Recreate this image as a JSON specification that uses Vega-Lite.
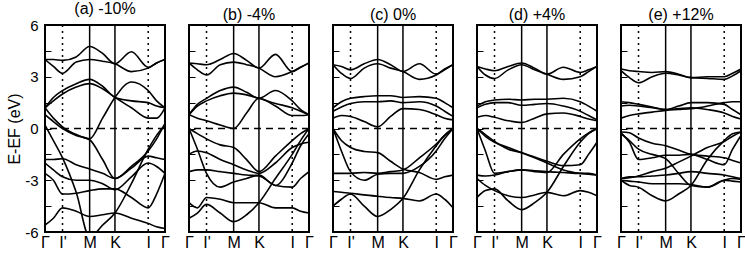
{
"$schema":"https://vega.github.io/schema/vega-lite/v6.json",
"padding":{"left":5,"top":0,"right":0,"bottom":0},
"spacing":12,
"config":{"view":{"stroke":"black","strokeWidth":2},"font":"Liberation Sans",
"axis":{"labelFont":"Liberation Sans","labelColor":"black","labelFontSize":15,"titleFont":"Liberation Sans","titleFontSize":16,"titleFontWeight":"normal","titleColor":"black","grid":false,"domain":false,"tickColor":"black"},
"axisX":{"labelOverlap":false,"labelFlush":false,"ticks":false,"labelPadding":2,"title":null,"labelFontSize":16},
"title":{"font":"Liberation Sans","fontSize":16,"fontWeight":"normal","color":"black","offset":1}},
"datasets":{
"vlines":[{"k":0.146,"s":"dot"},{"k":0.86,"s":"dot"},{"k":0.372,"s":"solid"},{"k":0.583,"s":"solid"}],
"bands":[
{"p":"a","b":1,"k":0,"e":4.0},{"p":"a","b":1,"k":0.07,"e":4.0},{"p":"a","b":1,"k":0.146,"e":3.95},{"p":"a","b":1,"k":0.26,"e":4.15},{"p":"a","b":1,"k":0.372,"e":4.75},{"p":"a","b":1,"k":0.48,"e":4.35},{"p":"a","b":1,"k":0.583,"e":3.75},{"p":"a","b":1,"k":0.72,"e":4.45},{"p":"a","b":1,"k":0.86,"e":3.55},{"p":"a","b":1,"k":0.93,"e":3.8},{"p":"a","b":1,"k":1,"e":4.0},
{"p":"a","b":2,"k":0,"e":4.0},{"p":"a","b":2,"k":0.07,"e":3.6},{"p":"a","b":2,"k":0.146,"e":3.2},{"p":"a","b":2,"k":0.26,"e":3.85},{"p":"a","b":2,"k":0.372,"e":4.0},{"p":"a","b":2,"k":0.48,"e":3.9},{"p":"a","b":2,"k":0.583,"e":3.75},{"p":"a","b":2,"k":0.72,"e":3.3},{"p":"a","b":2,"k":0.86,"e":3.5},{"p":"a","b":2,"k":0.93,"e":3.8},{"p":"a","b":2,"k":1,"e":4.0},
{"p":"a","b":3,"k":0,"e":1.2},{"p":"a","b":3,"k":0.07,"e":1.8},{"p":"a","b":3,"k":0.146,"e":2.2},{"p":"a","b":3,"k":0.26,"e":2.6},{"p":"a","b":3,"k":0.372,"e":2.85},{"p":"a","b":3,"k":0.48,"e":2.45},{"p":"a","b":3,"k":0.583,"e":1.8},{"p":"a","b":3,"k":0.72,"e":1.6},{"p":"a","b":3,"k":0.86,"e":1.5},{"p":"a","b":3,"k":0.93,"e":1.3},{"p":"a","b":3,"k":1,"e":1.2},
{"p":"a","b":4,"k":0,"e":1.2},{"p":"a","b":4,"k":0.07,"e":1.6},{"p":"a","b":4,"k":0.146,"e":2.0},{"p":"a","b":4,"k":0.26,"e":2.4},{"p":"a","b":4,"k":0.372,"e":2.6},{"p":"a","b":4,"k":0.48,"e":2.3},{"p":"a","b":4,"k":0.583,"e":1.8},{"p":"a","b":4,"k":0.72,"e":1.2},{"p":"a","b":4,"k":0.86,"e":0.6},{"p":"a","b":4,"k":0.93,"e":0.6},{"p":"a","b":4,"k":1,"e":1.2},
{"p":"a","b":5,"k":0,"e":1.2},{"p":"a","b":5,"k":0.07,"e":0.6},{"p":"a","b":5,"k":0.146,"e":0.1},{"p":"a","b":5,"k":0.26,"e":-0.35},{"p":"a","b":5,"k":0.372,"e":-0.6},{"p":"a","b":5,"k":0.48,"e":0.6},{"p":"a","b":5,"k":0.583,"e":1.8},{"p":"a","b":5,"k":0.72,"e":2.7},{"p":"a","b":5,"k":0.86,"e":2.2},{"p":"a","b":5,"k":0.93,"e":1.6},{"p":"a","b":5,"k":1,"e":1.2},
{"p":"a","b":6,"k":0,"e":0.8},{"p":"a","b":6,"k":0.07,"e":0.4},{"p":"a","b":6,"k":0.146,"e":0.0},{"p":"a","b":6,"k":0.26,"e":-0.4},{"p":"a","b":6,"k":0.372,"e":-0.65},{"p":"a","b":6,"k":0.48,"e":-1.8},{"p":"a","b":6,"k":0.583,"e":-2.9},{"p":"a","b":6,"k":0.72,"e":-2.2},{"p":"a","b":6,"k":0.86,"e":-1.3},{"p":"a","b":6,"k":0.93,"e":-0.6},{"p":"a","b":6,"k":1,"e":0.3},
{"p":"a","b":7,"k":0,"e":0.2},{"p":"a","b":7,"k":0.07,"e":-0.7},{"p":"a","b":7,"k":0.146,"e":-1.7},{"p":"a","b":7,"k":0.26,"e":-3.7},{"p":"a","b":7,"k":0.372,"e":-6.3},{"p":"a","b":7,"k":0.48,"e":-5.6},{"p":"a","b":7,"k":0.583,"e":-4.9},{"p":"a","b":7,"k":0.72,"e":-3.2},{"p":"a","b":7,"k":0.86,"e":-1.2},{"p":"a","b":7,"k":0.93,"e":-0.4},{"p":"a","b":7,"k":1,"e":0.2},
{"p":"a","b":8,"k":0,"e":-1.8},{"p":"a","b":8,"k":0.07,"e":-1.8},{"p":"a","b":8,"k":0.146,"e":-1.75},{"p":"a","b":8,"k":0.26,"e":-2.1},{"p":"a","b":8,"k":0.372,"e":-2.35},{"p":"a","b":8,"k":0.48,"e":-2.6},{"p":"a","b":8,"k":0.583,"e":-2.9},{"p":"a","b":8,"k":0.72,"e":-2.3},{"p":"a","b":8,"k":0.86,"e":-1.6},{"p":"a","b":8,"k":0.93,"e":-1.7},{"p":"a","b":8,"k":1,"e":-1.8},
{"p":"a","b":9,"k":0,"e":-2.0},{"p":"a","b":9,"k":0.07,"e":-2.4},{"p":"a","b":9,"k":0.146,"e":-2.8},{"p":"a","b":9,"k":0.26,"e":-3.0},{"p":"a","b":9,"k":0.372,"e":-3.0},{"p":"a","b":9,"k":0.48,"e":-3.2},{"p":"a","b":9,"k":0.583,"e":-3.55},{"p":"a","b":9,"k":0.72,"e":-2.8},{"p":"a","b":9,"k":0.86,"e":-2.0},{"p":"a","b":9,"k":0.93,"e":-2.2},{"p":"a","b":9,"k":1,"e":-2.6},
{"p":"a","b":10,"k":0,"e":-2.6},{"p":"a","b":10,"k":0.07,"e":-3.0},{"p":"a","b":10,"k":0.146,"e":-3.8},{"p":"a","b":10,"k":0.26,"e":-3.75},{"p":"a","b":10,"k":0.372,"e":-3.6},{"p":"a","b":10,"k":0.48,"e":-3.5},{"p":"a","b":10,"k":0.583,"e":-3.5},{"p":"a","b":10,"k":0.72,"e":-4.0},{"p":"a","b":10,"k":0.86,"e":-4.6},{"p":"a","b":10,"k":0.93,"e":-3.8},{"p":"a","b":10,"k":1,"e":-2.6},
{"p":"a","b":11,"k":0,"e":-5.6},{"p":"a","b":11,"k":0.07,"e":-5.2},{"p":"a","b":11,"k":0.146,"e":-4.6},{"p":"a","b":11,"k":0.26,"e":-4.8},{"p":"a","b":11,"k":0.372,"e":-5.1},{"p":"a","b":11,"k":0.48,"e":-5.0},{"p":"a","b":11,"k":0.583,"e":-4.9},{"p":"a","b":11,"k":0.72,"e":-5.2},{"p":"a","b":11,"k":0.86,"e":-5.5},{"p":"a","b":11,"k":0.93,"e":-5.7},{"p":"a","b":11,"k":1,"e":-5.8},

{"p":"b","b":1,"k":0,"e":3.8},{"p":"b","b":1,"k":0.07,"e":3.75},{"p":"b","b":1,"k":0.146,"e":3.7},{"p":"b","b":1,"k":0.26,"e":4.0},{"p":"b","b":1,"k":0.372,"e":4.35},{"p":"b","b":1,"k":0.48,"e":3.95},{"p":"b","b":1,"k":0.583,"e":3.5},{"p":"b","b":1,"k":0.72,"e":4.3},{"p":"b","b":1,"k":0.86,"e":3.3},{"p":"b","b":1,"k":0.93,"e":3.55},{"p":"b","b":1,"k":1,"e":3.8},
{"p":"b","b":2,"k":0,"e":3.8},{"p":"b","b":2,"k":0.07,"e":3.4},{"p":"b","b":2,"k":0.146,"e":3.1},{"p":"b","b":2,"k":0.26,"e":3.7},{"p":"b","b":2,"k":0.372,"e":3.85},{"p":"b","b":2,"k":0.48,"e":3.7},{"p":"b","b":2,"k":0.583,"e":3.5},{"p":"b","b":2,"k":0.72,"e":3.0},{"p":"b","b":2,"k":0.86,"e":3.3},{"p":"b","b":2,"k":0.93,"e":3.55},{"p":"b","b":2,"k":1,"e":3.8},
{"p":"b","b":3,"k":0,"e":0.8},{"p":"b","b":3,"k":0.07,"e":1.4},{"p":"b","b":3,"k":0.146,"e":1.75},{"p":"b","b":3,"k":0.26,"e":2.2},{"p":"b","b":3,"k":0.372,"e":2.4},{"p":"b","b":3,"k":0.48,"e":2.1},{"p":"b","b":3,"k":0.583,"e":1.75},{"p":"b","b":3,"k":0.72,"e":2.2},{"p":"b","b":3,"k":0.86,"e":1.6},{"p":"b","b":3,"k":0.93,"e":1.1},{"p":"b","b":3,"k":1,"e":0.8},
{"p":"b","b":4,"k":0,"e":0.8},{"p":"b","b":4,"k":0.07,"e":1.3},{"p":"b","b":4,"k":0.146,"e":1.6},{"p":"b","b":4,"k":0.26,"e":1.9},{"p":"b","b":4,"k":0.372,"e":2.05},{"p":"b","b":4,"k":0.48,"e":1.95},{"p":"b","b":4,"k":0.583,"e":1.75},{"p":"b","b":4,"k":0.72,"e":1.45},{"p":"b","b":4,"k":0.86,"e":1.2},{"p":"b","b":4,"k":0.93,"e":1.0},{"p":"b","b":4,"k":1,"e":0.8},
{"p":"b","b":5,"k":0,"e":0.8},{"p":"b","b":5,"k":0.07,"e":0.6},{"p":"b","b":5,"k":0.146,"e":0.45},{"p":"b","b":5,"k":0.26,"e":0.2},{"p":"b","b":5,"k":0.372,"e":0.0},{"p":"b","b":5,"k":0.48,"e":0.9},{"p":"b","b":5,"k":0.583,"e":1.75},{"p":"b","b":5,"k":0.72,"e":1.3},{"p":"b","b":5,"k":0.86,"e":0.75},{"p":"b","b":5,"k":0.93,"e":0.75},{"p":"b","b":5,"k":1,"e":0.8},
{"p":"b","b":6,"k":0,"e":0.0},{"p":"b","b":6,"k":0.07,"e":-0.3},{"p":"b","b":6,"k":0.146,"e":-0.6},{"p":"b","b":6,"k":0.26,"e":-0.95},{"p":"b","b":6,"k":0.372,"e":-1.1},{"p":"b","b":6,"k":0.48,"e":-1.8},{"p":"b","b":6,"k":0.583,"e":-2.5},{"p":"b","b":6,"k":0.72,"e":-1.6},{"p":"b","b":6,"k":0.86,"e":-0.7},{"p":"b","b":6,"k":0.93,"e":-0.3},{"p":"b","b":6,"k":1,"e":0.0},
{"p":"b","b":7,"k":0,"e":0.0},{"p":"b","b":7,"k":0.07,"e":-1.2},{"p":"b","b":7,"k":0.146,"e":-2.6},{"p":"b","b":7,"k":0.26,"e":-3.4},{"p":"b","b":7,"k":0.372,"e":-3.1},{"p":"b","b":7,"k":0.48,"e":-2.9},{"p":"b","b":7,"k":0.583,"e":-2.7},{"p":"b","b":7,"k":0.72,"e":-3.3},{"p":"b","b":7,"k":0.86,"e":-2.0},{"p":"b","b":7,"k":0.93,"e":-1.0},{"p":"b","b":7,"k":1,"e":-0.3},
{"p":"b","b":8,"k":0,"e":-1.5},{"p":"b","b":8,"k":0.07,"e":-1.3},{"p":"b","b":8,"k":0.146,"e":-1.4},{"p":"b","b":8,"k":0.26,"e":-1.8},{"p":"b","b":8,"k":0.372,"e":-2.1},{"p":"b","b":8,"k":0.48,"e":-2.4},{"p":"b","b":8,"k":0.583,"e":-2.6},{"p":"b","b":8,"k":0.72,"e":-2.0},{"p":"b","b":8,"k":0.86,"e":-1.1},{"p":"b","b":8,"k":0.93,"e":-0.9},{"p":"b","b":8,"k":1,"e":-0.8},
{"p":"b","b":9,"k":0,"e":-2.5},{"p":"b","b":9,"k":0.07,"e":-2.4},{"p":"b","b":9,"k":0.146,"e":-2.4},{"p":"b","b":9,"k":0.26,"e":-2.5},{"p":"b","b":9,"k":0.372,"e":-2.6},{"p":"b","b":9,"k":0.48,"e":-2.7},{"p":"b","b":9,"k":0.583,"e":-2.75},{"p":"b","b":9,"k":0.72,"e":-3.3},{"p":"b","b":9,"k":0.86,"e":-3.4},{"p":"b","b":9,"k":0.93,"e":-2.9},{"p":"b","b":9,"k":1,"e":-2.5},
{"p":"b","b":10,"k":0,"e":-4.3},{"p":"b","b":10,"k":0.07,"e":-4.6},{"p":"b","b":10,"k":0.146,"e":-4.0},{"p":"b","b":10,"k":0.26,"e":-4.1},{"p":"b","b":10,"k":0.372,"e":-4.3},{"p":"b","b":10,"k":0.48,"e":-4.3},{"p":"b","b":10,"k":0.583,"e":-4.3},{"p":"b","b":10,"k":0.72,"e":-4.6},{"p":"b","b":10,"k":0.86,"e":-4.6},{"p":"b","b":10,"k":0.93,"e":-4.8},{"p":"b","b":10,"k":1,"e":-4.9},
{"p":"b","b":11,"k":0,"e":-5.2},{"p":"b","b":11,"k":0.07,"e":-4.9},{"p":"b","b":11,"k":0.146,"e":-4.4},{"p":"b","b":11,"k":0.26,"e":-4.9},{"p":"b","b":11,"k":0.372,"e":-5.4},{"p":"b","b":11,"k":0.48,"e":-5.0},{"p":"b","b":11,"k":0.583,"e":-4.3},{"p":"b","b":11,"k":0.72,"e":-2.9},{"p":"b","b":11,"k":0.86,"e":-1.5},{"p":"b","b":11,"k":0.93,"e":-0.7},{"p":"b","b":11,"k":1,"e":0.0},

{"p":"c","b":1,"k":0,"e":3.7},{"p":"c","b":1,"k":0.07,"e":3.6},{"p":"c","b":1,"k":0.146,"e":3.4},{"p":"c","b":1,"k":0.26,"e":3.75},{"p":"c","b":1,"k":0.372,"e":4.0},{"p":"c","b":1,"k":0.48,"e":3.7},{"p":"c","b":1,"k":0.583,"e":3.3},{"p":"c","b":1,"k":0.72,"e":3.75},{"p":"c","b":1,"k":0.86,"e":3.15},{"p":"c","b":1,"k":0.93,"e":3.45},{"p":"c","b":1,"k":1,"e":3.7},
{"p":"c","b":2,"k":0,"e":3.7},{"p":"c","b":2,"k":0.07,"e":3.2},{"p":"c","b":2,"k":0.146,"e":2.9},{"p":"c","b":2,"k":0.26,"e":3.5},{"p":"c","b":2,"k":0.372,"e":3.75},{"p":"c","b":2,"k":0.48,"e":3.5},{"p":"c","b":2,"k":0.583,"e":3.3},{"p":"c","b":2,"k":0.72,"e":2.85},{"p":"c","b":2,"k":0.86,"e":3.1},{"p":"c","b":2,"k":0.93,"e":3.4},{"p":"c","b":2,"k":1,"e":3.7},
{"p":"c","b":3,"k":0,"e":1.2},{"p":"c","b":3,"k":0.07,"e":1.55},{"p":"c","b":3,"k":0.146,"e":1.75},{"p":"c","b":3,"k":0.26,"e":1.85},{"p":"c","b":3,"k":0.372,"e":1.9},{"p":"c","b":3,"k":0.48,"e":1.9},{"p":"c","b":3,"k":0.583,"e":1.8},{"p":"c","b":3,"k":0.72,"e":1.85},{"p":"c","b":3,"k":0.86,"e":1.75},{"p":"c","b":3,"k":0.93,"e":1.5},{"p":"c","b":3,"k":1,"e":1.2},
{"p":"c","b":4,"k":0,"e":1.0},{"p":"c","b":4,"k":0.07,"e":1.25},{"p":"c","b":4,"k":0.146,"e":1.45},{"p":"c","b":4,"k":0.26,"e":1.55},{"p":"c","b":4,"k":0.372,"e":1.55},{"p":"c","b":4,"k":0.48,"e":1.6},{"p":"c","b":4,"k":0.583,"e":1.5},{"p":"c","b":4,"k":0.72,"e":1.55},{"p":"c","b":4,"k":0.86,"e":1.3},{"p":"c","b":4,"k":0.93,"e":1.0},{"p":"c","b":4,"k":1,"e":0.7},
{"p":"c","b":5,"k":0,"e":0.6},{"p":"c","b":5,"k":0.07,"e":0.75},{"p":"c","b":5,"k":0.146,"e":0.7},{"p":"c","b":5,"k":0.26,"e":0.4},{"p":"c","b":5,"k":0.372,"e":0.1},{"p":"c","b":5,"k":0.48,"e":0.7},{"p":"c","b":5,"k":0.583,"e":1.15},{"p":"c","b":5,"k":0.72,"e":1.1},{"p":"c","b":5,"k":0.86,"e":0.8},{"p":"c","b":5,"k":0.93,"e":0.6},{"p":"c","b":5,"k":1,"e":0.5},
{"p":"c","b":6,"k":0,"e":0.0},{"p":"c","b":6,"k":0.07,"e":-0.7},{"p":"c","b":6,"k":0.146,"e":-1.1},{"p":"c","b":6,"k":0.26,"e":-1.33},{"p":"c","b":6,"k":0.372,"e":-1.4},{"p":"c","b":6,"k":0.48,"e":-1.9},{"p":"c","b":6,"k":0.583,"e":-2.35},{"p":"c","b":6,"k":0.72,"e":-2.55},{"p":"c","b":6,"k":0.86,"e":-2.95},{"p":"c","b":6,"k":0.93,"e":-2.8},{"p":"c","b":6,"k":1,"e":-2.7},
{"p":"c","b":7,"k":0,"e":0.0},{"p":"c","b":7,"k":0.07,"e":-1.3},{"p":"c","b":7,"k":0.146,"e":-2.5},{"p":"c","b":7,"k":0.26,"e":-3.0},{"p":"c","b":7,"k":0.372,"e":-2.65},{"p":"c","b":7,"k":0.48,"e":-2.6},{"p":"c","b":7,"k":0.583,"e":-2.6},{"p":"c","b":7,"k":0.72,"e":-2.2},{"p":"c","b":7,"k":0.86,"e":-1.3},{"p":"c","b":7,"k":0.93,"e":-0.6},{"p":"c","b":7,"k":1,"e":0.0},
{"p":"c","b":8,"k":0,"e":-2.6},{"p":"c","b":8,"k":0.07,"e":-2.6},{"p":"c","b":8,"k":0.146,"e":-2.6},{"p":"c","b":8,"k":0.26,"e":-2.55},{"p":"c","b":8,"k":0.372,"e":-2.6},{"p":"c","b":8,"k":0.48,"e":-2.5},{"p":"c","b":8,"k":0.583,"e":-2.4},{"p":"c","b":8,"k":0.72,"e":-1.7},{"p":"c","b":8,"k":0.86,"e":-0.9},{"p":"c","b":8,"k":0.93,"e":-0.4},{"p":"c","b":8,"k":1,"e":0.0},
{"p":"c","b":9,"k":0,"e":-3.65},{"p":"c","b":9,"k":0.07,"e":-3.7},{"p":"c","b":9,"k":0.146,"e":-3.75},{"p":"c","b":9,"k":0.26,"e":-3.85},{"p":"c","b":9,"k":0.372,"e":-3.93},{"p":"c","b":9,"k":0.48,"e":-4.0},{"p":"c","b":9,"k":0.583,"e":-4.05},{"p":"c","b":9,"k":0.72,"e":-4.2},{"p":"c","b":9,"k":0.86,"e":-3.8},{"p":"c","b":9,"k":0.93,"e":-4.1},{"p":"c","b":9,"k":1,"e":-4.6},
{"p":"c","b":10,"k":0,"e":-4.5},{"p":"c","b":10,"k":0.07,"e":-4.1},{"p":"c","b":10,"k":0.146,"e":-3.8},{"p":"c","b":10,"k":0.26,"e":-4.5},{"p":"c","b":10,"k":0.372,"e":-5.1},{"p":"c","b":10,"k":0.48,"e":-4.7},{"p":"c","b":10,"k":0.583,"e":-4.05},{"p":"c","b":10,"k":0.72,"e":-2.4},{"p":"c","b":10,"k":0.86,"e":-1.0},{"p":"c","b":10,"k":0.93,"e":-0.4},{"p":"c","b":10,"k":1,"e":0.0},

{"p":"d","b":1,"k":0,"e":3.6},{"p":"d","b":1,"k":0.07,"e":3.45},{"p":"d","b":1,"k":0.146,"e":3.35},{"p":"d","b":1,"k":0.26,"e":3.6},{"p":"d","b":1,"k":0.372,"e":3.8},{"p":"d","b":1,"k":0.48,"e":3.5},{"p":"d","b":1,"k":0.583,"e":3.15},{"p":"d","b":1,"k":0.72,"e":3.55},{"p":"d","b":1,"k":0.86,"e":3.25},{"p":"d","b":1,"k":0.93,"e":3.4},{"p":"d","b":1,"k":1,"e":3.6},
{"p":"d","b":2,"k":0,"e":3.6},{"p":"d","b":2,"k":0.07,"e":3.1},{"p":"d","b":2,"k":0.146,"e":2.9},{"p":"d","b":2,"k":0.26,"e":3.4},{"p":"d","b":2,"k":0.372,"e":3.7},{"p":"d","b":2,"k":0.48,"e":3.4},{"p":"d","b":2,"k":0.583,"e":3.15},{"p":"d","b":2,"k":0.72,"e":2.85},{"p":"d","b":2,"k":0.86,"e":3.0},{"p":"d","b":2,"k":0.93,"e":3.3},{"p":"d","b":2,"k":1,"e":3.6},
{"p":"d","b":3,"k":0,"e":1.3},{"p":"d","b":3,"k":0.07,"e":1.55},{"p":"d","b":3,"k":0.146,"e":1.65},{"p":"d","b":3,"k":0.26,"e":1.7},{"p":"d","b":3,"k":0.372,"e":1.65},{"p":"d","b":3,"k":0.48,"e":1.7},{"p":"d","b":3,"k":0.583,"e":1.7},{"p":"d","b":3,"k":0.72,"e":1.75},{"p":"d","b":3,"k":0.86,"e":1.55},{"p":"d","b":3,"k":0.93,"e":1.3},{"p":"d","b":3,"k":1,"e":1.0},
{"p":"d","b":4,"k":0,"e":1.2},{"p":"d","b":4,"k":0.07,"e":1.4},{"p":"d","b":4,"k":0.146,"e":1.5},{"p":"d","b":4,"k":0.26,"e":1.5},{"p":"d","b":4,"k":0.372,"e":1.35},{"p":"d","b":4,"k":0.48,"e":1.4},{"p":"d","b":4,"k":0.583,"e":1.45},{"p":"d","b":4,"k":0.72,"e":1.3},{"p":"d","b":4,"k":0.86,"e":1.0},{"p":"d","b":4,"k":0.93,"e":0.75},{"p":"d","b":4,"k":1,"e":0.5},
{"p":"d","b":5,"k":0,"e":0.65},{"p":"d","b":5,"k":0.07,"e":0.75},{"p":"d","b":5,"k":0.146,"e":0.65},{"p":"d","b":5,"k":0.26,"e":0.45},{"p":"d","b":5,"k":0.372,"e":0.35},{"p":"d","b":5,"k":0.48,"e":0.6},{"p":"d","b":5,"k":0.583,"e":0.85},{"p":"d","b":5,"k":0.72,"e":0.9},{"p":"d","b":5,"k":0.86,"e":0.7},{"p":"d","b":5,"k":0.93,"e":0.55},{"p":"d","b":5,"k":1,"e":0.45},
{"p":"d","b":6,"k":0,"e":0.0},{"p":"d","b":6,"k":0.07,"e":-0.45},{"p":"d","b":6,"k":0.146,"e":-0.8},{"p":"d","b":6,"k":0.26,"e":-1.1},{"p":"d","b":6,"k":0.372,"e":-1.4},{"p":"d","b":6,"k":0.48,"e":-1.7},{"p":"d","b":6,"k":0.583,"e":-2.0},{"p":"d","b":6,"k":0.72,"e":-2.4},{"p":"d","b":6,"k":0.86,"e":-2.6},{"p":"d","b":6,"k":0.93,"e":-2.65},{"p":"d","b":6,"k":1,"e":-2.7},
{"p":"d","b":7,"k":0,"e":0.0},{"p":"d","b":7,"k":0.07,"e":-0.35},{"p":"d","b":7,"k":0.146,"e":-0.75},{"p":"d","b":7,"k":0.26,"e":-1.2},{"p":"d","b":7,"k":0.372,"e":-1.4},{"p":"d","b":7,"k":0.48,"e":-1.65},{"p":"d","b":7,"k":0.583,"e":-1.9},{"p":"d","b":7,"k":0.72,"e":-2.15},{"p":"d","b":7,"k":0.86,"e":-2.1},{"p":"d","b":7,"k":0.93,"e":-1.5},{"p":"d","b":7,"k":1,"e":-0.8},
{"p":"d","b":8,"k":0,"e":0.0},{"p":"d","b":8,"k":0.07,"e":-1.3},{"p":"d","b":8,"k":0.146,"e":-2.6},{"p":"d","b":8,"k":0.26,"e":-2.5},{"p":"d","b":8,"k":0.372,"e":-2.4},{"p":"d","b":8,"k":0.48,"e":-2.5},{"p":"d","b":8,"k":0.583,"e":-2.55},{"p":"d","b":8,"k":0.72,"e":-1.5},{"p":"d","b":8,"k":0.86,"e":-0.6},{"p":"d","b":8,"k":0.93,"e":-0.25},{"p":"d","b":8,"k":1,"e":0.0},
{"p":"d","b":9,"k":0,"e":-2.7},{"p":"d","b":9,"k":0.07,"e":-2.75},{"p":"d","b":9,"k":0.146,"e":-2.7},{"p":"d","b":9,"k":0.26,"e":-2.5},{"p":"d","b":9,"k":0.372,"e":-2.4},{"p":"d","b":9,"k":0.48,"e":-2.45},{"p":"d","b":9,"k":0.583,"e":-2.5},{"p":"d","b":9,"k":0.72,"e":-2.55},{"p":"d","b":9,"k":0.86,"e":-2.6},{"p":"d","b":9,"k":0.93,"e":-2.6},{"p":"d","b":9,"k":1,"e":-2.7},
{"p":"d","b":10,"k":0,"e":-2.9},{"p":"d","b":10,"k":0.07,"e":-3.3},{"p":"d","b":10,"k":0.146,"e":-3.6},{"p":"d","b":10,"k":0.26,"e":-3.9},{"p":"d","b":10,"k":0.372,"e":-4.0},{"p":"d","b":10,"k":0.48,"e":-3.85},{"p":"d","b":10,"k":0.583,"e":-3.7},{"p":"d","b":10,"k":0.72,"e":-3.9},{"p":"d","b":10,"k":0.86,"e":-3.6},{"p":"d","b":10,"k":0.93,"e":-3.7},{"p":"d","b":10,"k":1,"e":-3.9},
{"p":"d","b":11,"k":0,"e":-4.0},{"p":"d","b":11,"k":0.07,"e":-3.6},{"p":"d","b":11,"k":0.146,"e":-3.5},{"p":"d","b":11,"k":0.26,"e":-4.2},{"p":"d","b":11,"k":0.372,"e":-4.7},{"p":"d","b":11,"k":0.48,"e":-4.3},{"p":"d","b":11,"k":0.583,"e":-3.7},{"p":"d","b":11,"k":0.72,"e":-2.2},{"p":"d","b":11,"k":0.86,"e":-0.8},{"p":"d","b":11,"k":0.93,"e":-0.3},{"p":"d","b":11,"k":1,"e":0.0},

{"p":"e","b":1,"k":0,"e":3.45},{"p":"e","b":1,"k":0.07,"e":3.35},{"p":"e","b":1,"k":0.146,"e":3.3},{"p":"e","b":1,"k":0.26,"e":3.25},{"p":"e","b":1,"k":0.372,"e":3.3},{"p":"e","b":1,"k":0.48,"e":3.15},{"p":"e","b":1,"k":0.583,"e":2.95},{"p":"e","b":1,"k":0.72,"e":3.0},{"p":"e","b":1,"k":0.86,"e":3.0},{"p":"e","b":1,"k":0.93,"e":3.2},{"p":"e","b":1,"k":1,"e":3.45},
{"p":"e","b":2,"k":0,"e":3.35},{"p":"e","b":2,"k":0.07,"e":2.95},{"p":"e","b":2,"k":0.146,"e":2.65},{"p":"e","b":2,"k":0.26,"e":3.0},{"p":"e","b":2,"k":0.372,"e":3.2},{"p":"e","b":2,"k":0.48,"e":3.1},{"p":"e","b":2,"k":0.583,"e":2.95},{"p":"e","b":2,"k":0.72,"e":2.9},{"p":"e","b":2,"k":0.86,"e":2.85},{"p":"e","b":2,"k":0.93,"e":3.05},{"p":"e","b":2,"k":1,"e":3.35},
{"p":"e","b":3,"k":0,"e":1.55},{"p":"e","b":3,"k":0.07,"e":1.5},{"p":"e","b":3,"k":0.146,"e":1.4},{"p":"e","b":3,"k":0.26,"e":1.25},{"p":"e","b":3,"k":0.372,"e":1.1},{"p":"e","b":3,"k":0.48,"e":1.3},{"p":"e","b":3,"k":0.583,"e":1.5},{"p":"e","b":3,"k":0.72,"e":1.5},{"p":"e","b":3,"k":0.86,"e":1.4},{"p":"e","b":3,"k":0.93,"e":1.1},{"p":"e","b":3,"k":1,"e":0.8},
{"p":"e","b":4,"k":0,"e":1.3},{"p":"e","b":4,"k":0.07,"e":1.35},{"p":"e","b":4,"k":0.146,"e":1.3},{"p":"e","b":4,"k":0.26,"e":1.2},{"p":"e","b":4,"k":0.372,"e":1.1},{"p":"e","b":4,"k":0.48,"e":1.15},{"p":"e","b":4,"k":0.583,"e":1.2},{"p":"e","b":4,"k":0.72,"e":1.1},{"p":"e","b":4,"k":0.86,"e":0.9},{"p":"e","b":4,"k":0.93,"e":0.7},{"p":"e","b":4,"k":1,"e":0.55},
{"p":"e","b":5,"k":0,"e":0.6},{"p":"e","b":5,"k":0.07,"e":0.75},{"p":"e","b":5,"k":0.146,"e":0.85},{"p":"e","b":5,"k":0.26,"e":0.95},{"p":"e","b":5,"k":0.372,"e":1.05},{"p":"e","b":5,"k":0.48,"e":1.1},{"p":"e","b":5,"k":0.583,"e":1.15},{"p":"e","b":5,"k":0.72,"e":1.3},{"p":"e","b":5,"k":0.86,"e":1.5},{"p":"e","b":5,"k":0.93,"e":1.55},{"p":"e","b":5,"k":1,"e":1.55},
{"p":"e","b":6,"k":0,"e":-0.2},{"p":"e","b":6,"k":0.07,"e":-0.25},{"p":"e","b":6,"k":0.146,"e":-0.55},{"p":"e","b":6,"k":0.26,"e":-0.85},{"p":"e","b":6,"k":0.372,"e":-1.0},{"p":"e","b":6,"k":0.48,"e":-1.25},{"p":"e","b":6,"k":0.583,"e":-1.5},{"p":"e","b":6,"k":0.72,"e":-1.6},{"p":"e","b":6,"k":0.86,"e":-1.7},{"p":"e","b":6,"k":0.93,"e":-1.85},{"p":"e","b":6,"k":1,"e":-2.0},
{"p":"e","b":7,"k":0,"e":-0.25},{"p":"e","b":7,"k":0.07,"e":-0.8},{"p":"e","b":7,"k":0.146,"e":-1.8},{"p":"e","b":7,"k":0.26,"e":-1.7},{"p":"e","b":7,"k":0.372,"e":-1.55},{"p":"e","b":7,"k":0.48,"e":-1.55},{"p":"e","b":7,"k":0.583,"e":-1.5},{"p":"e","b":7,"k":0.72,"e":-1.8},{"p":"e","b":7,"k":0.86,"e":-2.1},{"p":"e","b":7,"k":0.93,"e":-1.2},{"p":"e","b":7,"k":1,"e":-0.4},
{"p":"e","b":8,"k":0,"e":-0.3},{"p":"e","b":8,"k":0.07,"e":-0.7},{"p":"e","b":8,"k":0.146,"e":-1.2},{"p":"e","b":8,"k":0.26,"e":-1.5},{"p":"e","b":8,"k":0.372,"e":-1.75},{"p":"e","b":8,"k":0.48,"e":-2.6},{"p":"e","b":8,"k":0.583,"e":-3.3},{"p":"e","b":8,"k":0.72,"e":-3.4},{"p":"e","b":8,"k":0.86,"e":-3.0},{"p":"e","b":8,"k":0.93,"e":-2.9},{"p":"e","b":8,"k":1,"e":-2.95},
{"p":"e","b":9,"k":0,"e":-2.9},{"p":"e","b":9,"k":0.07,"e":-2.8},{"p":"e","b":9,"k":0.146,"e":-2.8},{"p":"e","b":9,"k":0.26,"e":-2.75},{"p":"e","b":9,"k":0.372,"e":-2.7},{"p":"e","b":9,"k":0.48,"e":-2.6},{"p":"e","b":9,"k":0.583,"e":-2.5},{"p":"e","b":9,"k":0.72,"e":-2.6},{"p":"e","b":9,"k":0.86,"e":-2.7},{"p":"e","b":9,"k":0.93,"e":-2.8},{"p":"e","b":9,"k":1,"e":-2.9},
{"p":"e","b":10,"k":0,"e":-3.0},{"p":"e","b":10,"k":0.07,"e":-3.05},{"p":"e","b":10,"k":0.146,"e":-3.1},{"p":"e","b":10,"k":0.26,"e":-3.2},{"p":"e","b":10,"k":0.372,"e":-3.2},{"p":"e","b":10,"k":0.48,"e":-3.2},{"p":"e","b":10,"k":0.583,"e":-3.25},{"p":"e","b":10,"k":0.72,"e":-3.4},{"p":"e","b":10,"k":0.86,"e":-3.0},{"p":"e","b":10,"k":0.93,"e":-3.05},{"p":"e","b":10,"k":1,"e":-3.1},
{"p":"e","b":11,"k":0,"e":-3.0},{"p":"e","b":11,"k":0.07,"e":-3.3},{"p":"e","b":11,"k":0.146,"e":-3.4},{"p":"e","b":11,"k":0.26,"e":-3.9},{"p":"e","b":11,"k":0.372,"e":-4.2},{"p":"e","b":11,"k":0.48,"e":-3.8},{"p":"e","b":11,"k":0.583,"e":-3.3},{"p":"e","b":11,"k":0.72,"e":-1.8},{"p":"e","b":11,"k":0.86,"e":-0.7},{"p":"e","b":11,"k":0.93,"e":-0.3},{"p":"e","b":11,"k":1,"e":-0.2},
{"p":"e","b":12,"k":0,"e":-2.9},{"p":"e","b":12,"k":0.07,"e":-2.85},{"p":"e","b":12,"k":0.146,"e":-2.75},{"p":"e","b":12,"k":0.26,"e":-2.5},{"p":"e","b":12,"k":0.372,"e":-2.3},{"p":"e","b":12,"k":0.48,"e":-1.95},{"p":"e","b":12,"k":0.583,"e":-1.6},{"p":"e","b":12,"k":0.72,"e":-1.1},{"p":"e","b":12,"k":0.86,"e":-0.75},{"p":"e","b":12,"k":0.93,"e":-0.45},{"p":"e","b":12,"k":1,"e":-0.2}
]},
"hconcat":[
{"title":"(a) -10%","width":120,"height":207,"layer":[
 {"data":{"name":"vlines"},"transform":[{"filter":"datum.s=='dot'"}],"mark":{"type":"rule","color":"black","strokeWidth":1.5,"strokeDash":[2,4]},"encoding":{"x":{"field":"k","type":"quantitative","scale":{"domain":[0,1],"nice":false,"zero":false},"axis":{"values":[0,0.146,0.372,0.583,0.86,1],"labelExpr":"datum.value == 0 || datum.value == 1 ? 'Γ' : datum.value < 0.2 ? \"I'\" : datum.value < 0.4 ? 'M' : datum.value < 0.7 ? 'K' : 'I'"}}}},
 {"data":{"name":"vlines"},"transform":[{"filter":"datum.s=='solid'"}],"mark":{"type":"rule","color":"black","strokeWidth":1.5},"encoding":{"x":{"field":"k","type":"quantitative","scale":{"domain":[0,1],"nice":false,"zero":false},"axis":{"values":[0,0.146,0.372,0.583,0.86,1],"labelExpr":"datum.value == 0 || datum.value == 1 ? 'Γ' : datum.value < 0.2 ? \"I'\" : datum.value < 0.4 ? 'M' : datum.value < 0.7 ? 'K' : 'I'"}}}},
 {"data":{"values":[{"e":0}]},"mark":{"type":"rule","color":"black","strokeWidth":1.5,"strokeDash":[7,5]},"encoding":{"y":{"field":"e","type":"quantitative","scale":{"domain":[-6,6],"nice":false},"axis":{"values":[-6,-4.5,-3,-1.5,0,1.5,3,4.5,6],"labelExpr":"datum.value % 3 == 0 ? '' + datum.value : ''","tickSize":-6,"labelPadding":13,"title":"E-EF (eV)","titlePadding":2}}}},
 {"data":{"name":"bands"},"transform":[{"filter":"datum.p=='a'"}],"mark":{"type":"line","interpolate":"monotone","color":"black","strokeWidth":1.6,"clip":true},
  "encoding":{"x":{"field":"k","type":"quantitative","scale":{"domain":[0,1],"nice":false,"zero":false},"axis":{"values":[0,0.146,0.372,0.583,0.86,1],"labelExpr":"datum.value == 0 || datum.value == 1 ? 'Γ' : datum.value < 0.2 ? \"I'\" : datum.value < 0.4 ? 'M' : datum.value < 0.7 ? 'K' : 'I'"}},
  "y":{"field":"e","type":"quantitative","scale":{"domain":[-6,6],"nice":false},"axis":{"values":[-6,-4.5,-3,-1.5,0,1.5,3,4.5,6],"labelExpr":"datum.value % 3 == 0 ? '' + datum.value : ''","tickSize":-6,"labelPadding":13,"title":"E-EF (eV)","titlePadding":2}},
  "detail":{"field":"b"}}}
]},
{"title":"(b) -4%","width":120,"height":207,"layer":[
 {"data":{"name":"vlines"},"transform":[{"filter":"datum.s=='dot'"}],"mark":{"type":"rule","color":"black","strokeWidth":1.5,"strokeDash":[2,4]},"encoding":{"x":{"field":"k","type":"quantitative","scale":{"domain":[0,1],"nice":false,"zero":false},"axis":{"values":[0,0.146,0.372,0.583,0.86,1],"labelExpr":"datum.value == 0 || datum.value == 1 ? 'Γ' : datum.value < 0.2 ? \"I'\" : datum.value < 0.4 ? 'M' : datum.value < 0.7 ? 'K' : 'I'"}}}},
 {"data":{"name":"vlines"},"transform":[{"filter":"datum.s=='solid'"}],"mark":{"type":"rule","color":"black","strokeWidth":1.5},"encoding":{"x":{"field":"k","type":"quantitative","scale":{"domain":[0,1],"nice":false,"zero":false},"axis":{"values":[0,0.146,0.372,0.583,0.86,1],"labelExpr":"datum.value == 0 || datum.value == 1 ? 'Γ' : datum.value < 0.2 ? \"I'\" : datum.value < 0.4 ? 'M' : datum.value < 0.7 ? 'K' : 'I'"}}}},
 {"data":{"values":[{"e":0}]},"mark":{"type":"rule","color":"black","strokeWidth":1.5,"strokeDash":[7,5]},"encoding":{"y":{"field":"e","type":"quantitative","scale":{"domain":[-6,6],"nice":false},"axis":{"values":[-6,-4.5,-3,-1.5,0,1.5,3,4.5,6],"labels":false,"tickSize":-6,"title":null}}}},
 {"data":{"name":"bands"},"transform":[{"filter":"datum.p=='b'"}],"mark":{"type":"line","interpolate":"monotone","color":"black","strokeWidth":1.6,"clip":true},
  "encoding":{"x":{"field":"k","type":"quantitative","scale":{"domain":[0,1],"nice":false,"zero":false},"axis":{"values":[0,0.146,0.372,0.583,0.86,1],"labelExpr":"datum.value == 0 || datum.value == 1 ? 'Γ' : datum.value < 0.2 ? \"I'\" : datum.value < 0.4 ? 'M' : datum.value < 0.7 ? 'K' : 'I'"}},
  "y":{"field":"e","type":"quantitative","scale":{"domain":[-6,6],"nice":false},"axis":{"values":[-6,-4.5,-3,-1.5,0,1.5,3,4.5,6],"labels":false,"tickSize":-6,"title":null}},
  "detail":{"field":"b"}}}
]},
{"title":"(c) 0%","width":120,"height":207,"layer":[
 {"data":{"name":"vlines"},"transform":[{"filter":"datum.s=='dot'"}],"mark":{"type":"rule","color":"black","strokeWidth":1.5,"strokeDash":[2,4]},"encoding":{"x":{"field":"k","type":"quantitative","scale":{"domain":[0,1],"nice":false,"zero":false},"axis":{"values":[0,0.146,0.372,0.583,0.86,1],"labelExpr":"datum.value == 0 || datum.value == 1 ? 'Γ' : datum.value < 0.2 ? \"I'\" : datum.value < 0.4 ? 'M' : datum.value < 0.7 ? 'K' : 'I'"}}}},
 {"data":{"name":"vlines"},"transform":[{"filter":"datum.s=='solid'"}],"mark":{"type":"rule","color":"black","strokeWidth":1.5},"encoding":{"x":{"field":"k","type":"quantitative","scale":{"domain":[0,1],"nice":false,"zero":false},"axis":{"values":[0,0.146,0.372,0.583,0.86,1],"labelExpr":"datum.value == 0 || datum.value == 1 ? 'Γ' : datum.value < 0.2 ? \"I'\" : datum.value < 0.4 ? 'M' : datum.value < 0.7 ? 'K' : 'I'"}}}},
 {"data":{"values":[{"e":0}]},"mark":{"type":"rule","color":"black","strokeWidth":1.5,"strokeDash":[7,5]},"encoding":{"y":{"field":"e","type":"quantitative","scale":{"domain":[-6,6],"nice":false},"axis":{"values":[-6,-4.5,-3,-1.5,0,1.5,3,4.5,6],"labels":false,"tickSize":-6,"title":null}}}},
 {"data":{"name":"bands"},"transform":[{"filter":"datum.p=='c'"}],"mark":{"type":"line","interpolate":"monotone","color":"black","strokeWidth":1.6,"clip":true},
  "encoding":{"x":{"field":"k","type":"quantitative","scale":{"domain":[0,1],"nice":false,"zero":false},"axis":{"values":[0,0.146,0.372,0.583,0.86,1],"labelExpr":"datum.value == 0 || datum.value == 1 ? 'Γ' : datum.value < 0.2 ? \"I'\" : datum.value < 0.4 ? 'M' : datum.value < 0.7 ? 'K' : 'I'"}},
  "y":{"field":"e","type":"quantitative","scale":{"domain":[-6,6],"nice":false},"axis":{"values":[-6,-4.5,-3,-1.5,0,1.5,3,4.5,6],"labels":false,"tickSize":-6,"title":null}},
  "detail":{"field":"b"}}}
]},
{"title":"(d) +4%","width":120,"height":207,"layer":[
 {"data":{"name":"vlines"},"transform":[{"filter":"datum.s=='dot'"}],"mark":{"type":"rule","color":"black","strokeWidth":1.5,"strokeDash":[2,4]},"encoding":{"x":{"field":"k","type":"quantitative","scale":{"domain":[0,1],"nice":false,"zero":false},"axis":{"values":[0,0.146,0.372,0.583,0.86,1],"labelExpr":"datum.value == 0 || datum.value == 1 ? 'Γ' : datum.value < 0.2 ? \"I'\" : datum.value < 0.4 ? 'M' : datum.value < 0.7 ? 'K' : 'I'"}}}},
 {"data":{"name":"vlines"},"transform":[{"filter":"datum.s=='solid'"}],"mark":{"type":"rule","color":"black","strokeWidth":1.5},"encoding":{"x":{"field":"k","type":"quantitative","scale":{"domain":[0,1],"nice":false,"zero":false},"axis":{"values":[0,0.146,0.372,0.583,0.86,1],"labelExpr":"datum.value == 0 || datum.value == 1 ? 'Γ' : datum.value < 0.2 ? \"I'\" : datum.value < 0.4 ? 'M' : datum.value < 0.7 ? 'K' : 'I'"}}}},
 {"data":{"values":[{"e":0}]},"mark":{"type":"rule","color":"black","strokeWidth":1.5,"strokeDash":[7,5]},"encoding":{"y":{"field":"e","type":"quantitative","scale":{"domain":[-6,6],"nice":false},"axis":{"values":[-6,-4.5,-3,-1.5,0,1.5,3,4.5,6],"labels":false,"tickSize":-6,"title":null}}}},
 {"data":{"name":"bands"},"transform":[{"filter":"datum.p=='d'"}],"mark":{"type":"line","interpolate":"monotone","color":"black","strokeWidth":1.6,"clip":true},
  "encoding":{"x":{"field":"k","type":"quantitative","scale":{"domain":[0,1],"nice":false,"zero":false},"axis":{"values":[0,0.146,0.372,0.583,0.86,1],"labelExpr":"datum.value == 0 || datum.value == 1 ? 'Γ' : datum.value < 0.2 ? \"I'\" : datum.value < 0.4 ? 'M' : datum.value < 0.7 ? 'K' : 'I'"}},
  "y":{"field":"e","type":"quantitative","scale":{"domain":[-6,6],"nice":false},"axis":{"values":[-6,-4.5,-3,-1.5,0,1.5,3,4.5,6],"labels":false,"tickSize":-6,"title":null}},
  "detail":{"field":"b"}}}
]},
{"title":"(e) +12%","width":120,"height":207,"layer":[
 {"data":{"name":"vlines"},"transform":[{"filter":"datum.s=='dot'"}],"mark":{"type":"rule","color":"black","strokeWidth":1.5,"strokeDash":[2,4]},"encoding":{"x":{"field":"k","type":"quantitative","scale":{"domain":[0,1],"nice":false,"zero":false},"axis":{"values":[0,0.146,0.372,0.583,0.86,1],"labelExpr":"datum.value == 0 || datum.value == 1 ? 'Γ' : datum.value < 0.2 ? \"I'\" : datum.value < 0.4 ? 'M' : datum.value < 0.7 ? 'K' : 'I'"}}}},
 {"data":{"name":"vlines"},"transform":[{"filter":"datum.s=='solid'"}],"mark":{"type":"rule","color":"black","strokeWidth":1.5},"encoding":{"x":{"field":"k","type":"quantitative","scale":{"domain":[0,1],"nice":false,"zero":false},"axis":{"values":[0,0.146,0.372,0.583,0.86,1],"labelExpr":"datum.value == 0 || datum.value == 1 ? 'Γ' : datum.value < 0.2 ? \"I'\" : datum.value < 0.4 ? 'M' : datum.value < 0.7 ? 'K' : 'I'"}}}},
 {"data":{"values":[{"e":0}]},"mark":{"type":"rule","color":"black","strokeWidth":1.5,"strokeDash":[7,5]},"encoding":{"y":{"field":"e","type":"quantitative","scale":{"domain":[-6,6],"nice":false},"axis":{"values":[-6,-4.5,-3,-1.5,0,1.5,3,4.5,6],"labels":false,"tickSize":-6,"title":null}}}},
 {"data":{"name":"bands"},"transform":[{"filter":"datum.p=='e'"}],"mark":{"type":"line","interpolate":"monotone","color":"black","strokeWidth":1.6,"clip":true},
  "encoding":{"x":{"field":"k","type":"quantitative","scale":{"domain":[0,1],"nice":false,"zero":false},"axis":{"values":[0,0.146,0.372,0.583,0.86,1],"labelExpr":"datum.value == 0 || datum.value == 1 ? 'Γ' : datum.value < 0.2 ? \"I'\" : datum.value < 0.4 ? 'M' : datum.value < 0.7 ? 'K' : 'I'"}},
  "y":{"field":"e","type":"quantitative","scale":{"domain":[-6,6],"nice":false},"axis":{"values":[-6,-4.5,-3,-1.5,0,1.5,3,4.5,6],"labels":false,"tickSize":-6,"title":null}},
  "detail":{"field":"b"}}}
]}
]
}
